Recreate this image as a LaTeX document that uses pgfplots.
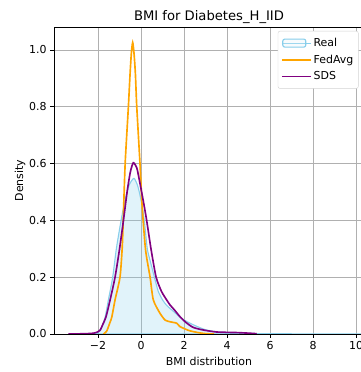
\documentclass[border=0pt]{standalone}
\usepackage{pgfplots}
\pgfplotsset{compat=1.18}
\usepackage{fontspec}
\setmainfont{DejaVu Sans}
\definecolor{skyblue}{RGB}{135,206,235}
\definecolor{mplorange}{RGB}{255,165,0}
\definecolor{mplpurple}{RGB}{128,0,128}
\definecolor{gridgray}{RGB}{176,176,176}
\pgfplotsset{
  fedleg/.style={legend image code/.code={\path (-1bp,0bp) -- (28bp,0bp);\draw[draw=mplorange, line width=1.65bp] (0bp,0bp) -- (23bp,0bp);}},
  sdsleg/.style={legend image code/.code={\path (-1bp,0bp) -- (28bp,0bp);\draw[draw=mplpurple, line width=1.65bp] (0bp,0bp) -- (23bp,0bp);}},
  realleg/.style={legend image code/.code={\path (-1bp,0bp) -- (28bp,0bp);\draw[draw=skyblue, line width=1.1bp, fill=skyblue!25] (0bp,-4bp) rectangle (23bp,4bp);}},
}
\begin{document}
\begin{tikzpicture}[x=1bp,y=1bp]
\begin{axis}[
  at={(0bp,0bp)}, anchor=south west,
  scale only axis, width=310bp, height=307bp,
  xmin=-4.05, xmax=10.37, ymin=0, ymax=1.081,
  xtick={-2,0,2,4,6,8,10},
  xticklabels={−2,0,2,4,6,8,10},
  ytick={0,0.2,0.4,0.6,0.8,1.0},
  yticklabel style={/pgf/number format/.cd, fixed, fixed zerofill, precision=1},
  /pgf/number format/assume math mode=true,
  tick align=outside, tick pos=left,
  major tick length=3.85bp,
  tick style={black, line width=0.9bp},
  axis line style={black, line width=0.9bp},
  grid=major,
  major grid style={gridgray, line width=0.9bp},
  ticklabel style={font=\fontsize{11}{13}\selectfont},
  label style={font=\fontsize{11}{13}\selectfont},
  xlabel={BMI distribution}, ylabel={Density},
  xlabel style={at={(axis description cs:0.5,0)}, anchor=base, yshift=-31bp},
  ylabel style={at={(axis description cs:-0.1097,0.5)}, anchor=center},
  every axis title shift=0pt,
  title={BMI for Diabetes\_H\_IID},
  title style={font=\fontsize{13.2}{15}\selectfont, at={(axis description cs:0.5,1)}, anchor=base, yshift=6.3bp},
  legend style={at={(rel axis cs:1,1)}, anchor=north east, xshift=-5.5bp, yshift=-4bp,
    font=\fontsize{11}{13}\selectfont, draw=gray!35, rounded corners=2bp, fill=white,
    row sep=3bp, inner xsep=3bp, inner ysep=5bp},
  legend cell align=left,
]
\addplot[draw=skyblue, fill=skyblue, fill opacity=0.25, line width=1.1bp, realleg, smooth, tension=0.4] coordinates {
(-2.2,0.000) (-2.0,0.005) (-1.9,0.012) (-1.8,0.030) (-1.67,0.06) (-1.52,0.12) (-1.32,0.2) (-1.15,0.3)
(-0.93,0.40) (-0.75,0.47) (-0.55,0.525) (-0.33,0.548) (-0.15,0.52) (0.0,0.47) (0.15,0.40) (0.29,0.30)
(0.45,0.25) (0.62,0.20) (0.8,0.15) (1.0,0.12) (1.2,0.10) (1.5,0.08) (1.8,0.06) (2.1,0.045) (2.5,0.03)
(3.0,0.015) (3.5,0.008) (4.0,0.005) (5.0,0.002) (6.0,0.001) (8.0,0.0005) (10.2,0.0003)
} \closedcycle;
\addlegendentry{Real}
\addplot[draw=mplorange, line width=1.65bp, fedleg, smooth, tension=0.4] coordinates {
(-1.75,0.000) (-1.6,0.01) (-1.45,0.04) (-1.36,0.06) (-1.21,0.12) (-0.98,0.2) (-0.88,0.3) (-0.83,0.4)
(-0.74,0.60) (-0.59,0.80) (-0.51,0.918) (-0.45,0.99) (-0.39,1.026) (-0.33,0.99) (-0.265,0.918) (-0.20,0.80)
(-0.05,0.60) (0.05,0.45) (0.21,0.296) (0.42,0.20) (0.57,0.12) (0.88,0.073) (1.12,0.049) (1.35,0.043)
(1.66,0.038) (1.81,0.026) (2.28,0.011) (2.9,0.002) (3.4,0.000)
};
\addlegendentry{FedAvg}
\addplot[draw=mplpurple, line width=1.65bp, sdsleg, smooth, tension=0.4] coordinates {
(-3.38,0.000) (-2.6,0.001) (-2.2,0.003) (-2.0,0.008) (-1.9,0.014) (-1.8,0.03) (-1.63,0.061) (-1.44,0.12)
(-1.21,0.2) (-1.0,0.3) (-0.82,0.40) (-0.65,0.50) (-0.5,0.57) (-0.36,0.603) (-0.2,0.585) (-0.1,0.55)
(0.1,0.47) (0.26,0.40) (0.47,0.296) (0.70,0.20) (0.95,0.15) (1.19,0.12) (1.35,0.102) (1.55,0.085)
(1.81,0.061) (2.1,0.04) (2.43,0.023) (2.9,0.014) (3.52,0.007) (4.45,0.005) (5.0,0.003) (5.38,0.001)
};
\addlegendentry{SDS}
\end{axis}
\pgfresetboundingbox
\path[use as bounding box] (-54bp,-38bp) rectangle (307bp,334bp);
\end{tikzpicture}
\end{document}
